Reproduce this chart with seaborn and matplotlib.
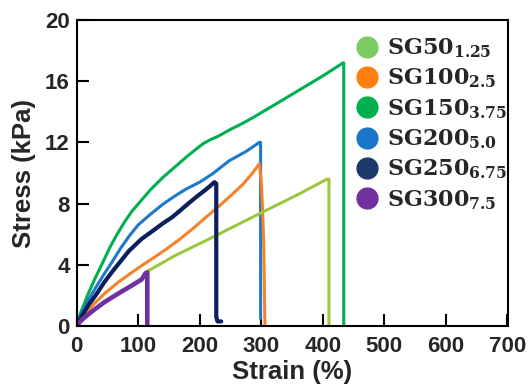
import numpy as np
import pandas as pd
import matplotlib
matplotlib.use("Agg")
import matplotlib.pyplot as plt
from matplotlib.lines import Line2D
import seaborn as sns

# ---- data ----
sg50_strain = [0, 10, 25, 45, 69, 90, 106, 114, 160, 216, 248, 305, 360, 407, 410, 410]
sg50_stress = [0, 0.45, 0.95, 1.55, 2.15, 2.65, 3.05, 3.55, 4.6, 5.7, 6.35, 7.5, 8.6, 9.6, 9.6, 0]

sg100_strain = [0, 10, 25, 45, 69, 90, 106, 125, 145, 167, 190, 210, 232, 250, 270, 285, 297,
                300, 302, 304, 305, 306]
sg100_stress = [0, 0.6, 1.3, 2.1, 2.9, 3.5, 3.95, 4.45, 5.0, 5.65, 6.4, 7.1, 7.85, 8.5, 9.25, 9.95, 10.6,
                9.5, 7.8, 5.5, 3.0, 0]

sg150_strain = [0, 5, 10, 20, 30, 42, 55, 66, 78, 90, 105, 120, 140, 160, 180, 194, 205, 216, 230,
                250, 270, 290, 315, 340, 365, 390, 410, 433, 434, 434]
sg150_stress = [0, 0.7, 1.2, 2.2, 3.1, 4.1, 5.2, 6.0, 6.8, 7.5, 8.2, 8.9, 9.7, 10.4, 11.1, 11.55, 11.9,
                12.15, 12.4, 12.85, 13.25, 13.7, 14.3, 14.9, 15.5, 16.1, 16.6, 17.2, 17.2, 0]

sg200_strain = [0, 5, 10, 20, 31, 45, 58, 72, 86, 100, 120, 140, 160, 178, 200, 221, 248, 275, 297,
                299, 299]
sg200_stress = [0, 0.5, 0.95, 1.75, 2.5, 3.4, 4.2, 5.1, 5.9, 6.6, 7.3, 7.95, 8.5, 8.95, 9.4, 9.95,
                10.8, 11.4, 12.0, 12.0, 0.5]

sg250_strain = [0, 10, 20, 31, 45, 58, 69, 85, 106, 125, 140, 155, 167, 180, 195, 208, 217, 224,
                227, 227, 229, 235]
sg250_stress = [0, 0.75, 1.4, 2.0, 2.85, 3.55, 4.1, 4.9, 5.7, 6.25, 6.7, 7.1, 7.5, 7.95, 8.45, 8.85,
                9.15, 9.4, 9.3, 0.6, 0.3, 0.3]

sg300_strain = [0, 5, 10, 25, 45, 69, 90, 106, 112, 115, 115]
sg300_stress = [0, 0.25, 0.45, 0.95, 1.55, 2.15, 2.65, 3.05, 3.45, 3.5, 0]

samples = ["SG50", "SG100", "SG150", "SG200", "SG250", "SG300"]
subscripts = ["1.25", "2.5", "3.75", "5.0", "6.75", "7.5"]
x_ticks = [0, 100, 200, 300, 400, 500, 600, 700]
y_ticks = [0, 4, 8, 12, 16, 20]

curve_colors = ["#9DC83C", "#F5822A", "#00B050", "#1E78CC", "#0A1F5C", "#7030A0"]
legend_colors = ["#7DCB63", "#FF7F0E", "#00B050", "#1B75C9", "#1B3A6B", "#7030A0"]
widths = [2.2, 2.2, 2.2, 2.2, 3.0, 3.3]

series = {
    "SG50": (sg50_strain, sg50_stress),
    "SG100": (sg100_strain, sg100_stress),
    "SG150": (sg150_strain, sg150_stress),
    "SG200": (sg200_strain, sg200_stress),
    "SG250": (sg250_strain, sg250_stress),
    "SG300": (sg300_strain, sg300_stress),
}
frames = []
for name, (xs, ys) in series.items():
    frames.append(pd.DataFrame({"strain": xs, "stress": ys, "sample": name}))
df = pd.concat(frames, ignore_index=True)

# ---- style ----
sns.set_style("ticks")
plt.rcParams["font.family"] = ["Liberation Sans", "DejaVu Sans"]
plt.rcParams["mathtext.fontset"] = "custom"
plt.rcParams["mathtext.bf"] = "DejaVu Serif:bold"
plt.rcParams["mathtext.rm"] = "DejaVu Serif"

fig = plt.figure(figsize=(5.28, 3.9), dpi=100)
ax = fig.add_axes([76.5 / 528, 1 - 326 / 390, (507.5 - 76.5) / 528, (326 - 20) / 390])

draw_order = ["SG150", "SG200", "SG100", "SG50", "SG250", "SG300"]
for name in draw_order:
    i = samples.index(name)
    sub = df[df["sample"] == name]
    sns.lineplot(data=sub, x="strain", y="stress", sort=False, estimator=None,
                 color=curve_colors[i], lw=widths[i], ax=ax, legend=False,
                 solid_joinstyle="round", solid_capstyle="round")

ax.set_xlim(0, 700)
ax.set_ylim(0, 20)
ax.set_xticks(x_ticks)
ax.set_yticks(y_ticks)
ax.tick_params(direction="in", length=8.6, width=1.5, labelsize=16, color="black")
ax.tick_params(axis="x", pad=7)
ax.tick_params(axis="y", pad=5)
for lab in ax.get_xticklabels() + ax.get_yticklabels():
    lab.set_fontweight("bold")
for sp in ax.spines.values():
    sp.set_linewidth(1.5)
    sp.set_color("black")
    sp.set_visible(True)

ax.set_xlabel("Strain (%)", fontsize=18.5, fontweight="bold", labelpad=2)
ax.set_ylabel("Stress (kPa)", fontsize=18.5, fontweight="bold", labelpad=6)

handles = [Line2D([], [], ls="", marker="o", ms=15, color=c, mec=c) for c in legend_colors]
labels = [r"$\mathbf{%s}_{\mathbf{%s}}$" % (s, sub) for s, sub in zip(samples, subscripts)]
ax.legend(handles, labels, loc="upper left", bbox_to_anchor=(0.617, 0.982),
          frameon=False, fontsize=16, handletextpad=0.3, labelspacing=0.3,
          borderpad=0, handlelength=1.2)

fig.savefig("out.png", dpi=100)
